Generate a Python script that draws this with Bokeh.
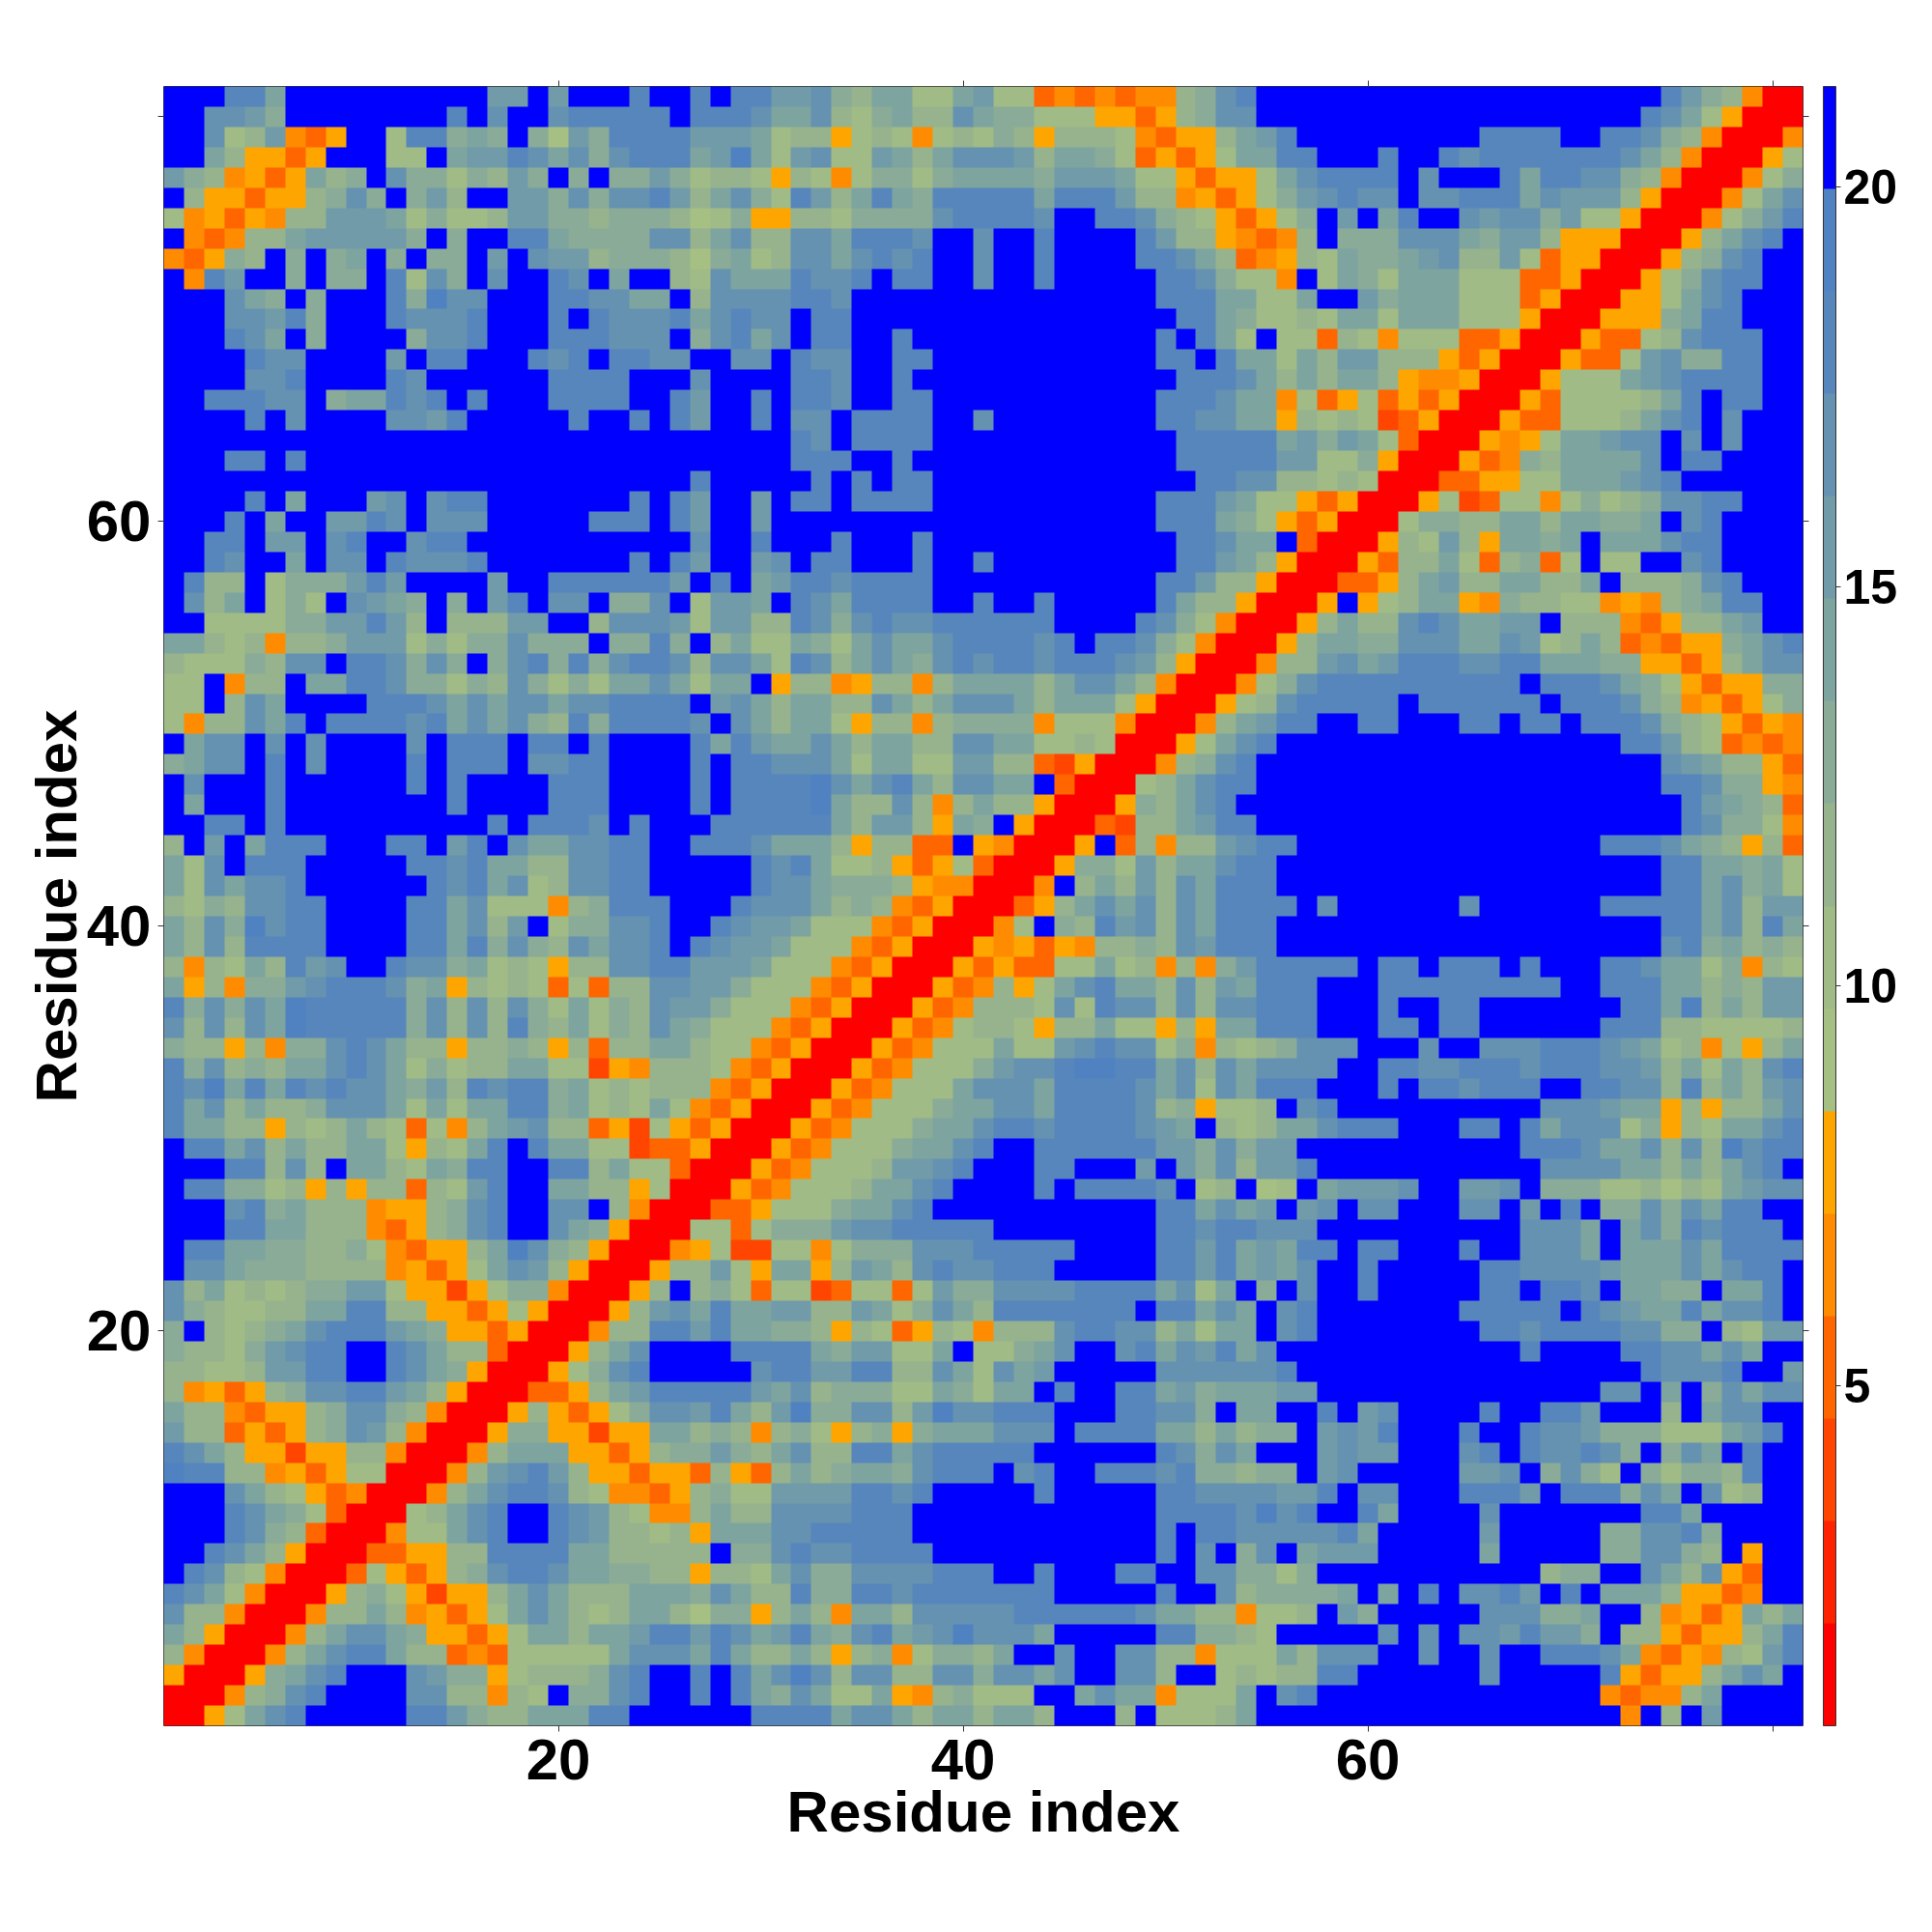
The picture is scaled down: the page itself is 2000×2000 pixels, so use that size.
from bokeh.embed import file_html
from bokeh.resources import INLINE
from bokeh.plotting import figure
from bokeh.models import LinearColorMapper, ColorBar, FixedTicker, LinearAxis, Range1d, CustomLabelingPolicy
import numpy as np

# Band index of every cell (hex digit; 0 = first colour bar band, f = last), read top row first.
TOP_LEFT = [
"fffddaffffffffffbbfbfffdffd","ffccb9ffffffffdfcffcdddddfd","ffc78b435ff7dd9a9f96b9ddddb",
"ffa85535fff77fabbdcac9cddda","b984535a89fc99798b9f9f99b97","f85535589c9f9b8ffbb9c9ccdb8",
"74535488bbba79778bb99899986","f43488abbbbb9f9ffdda9999cc8","43598f9f9af9f99fbfcbb899986",
"f4dbff9f99fd7c9fcffdcfaff87","fffca9f9fffd9eccfffddccaaf8","fffccbd9fffdcccdfffdfdcccda",
"fffdcaf9ffff9ccdfffdddcccf9","ffffdccffffbfddfffdcdfddccf","ffffccdffffdcffffffddddfffc",
"ffdddccf9aadcdfdfffddddffdb","ffffdfcffffccbdfffffdffdfdb","fffffffffffffffffffffffffff",
"fffddfdffffffffffffffffffff","ffffffffffffffffffffffffffd","ffffdfafffbcfcddfffffffdfdb",
"fffdfaffbbdcfcccfffffdddfdb","ffddfbbfcdffcddfffffffffffc","ffdcffafccfdcccdfffffffdfdb",
"fd88f7999bdbffffbffddddddbf","fc8af797fcba9f9fbdfccf99cf7","ff777799bbdb8f888bbff8cccb7",
]
TOP_MID = [
"fddbbc98aa77ab77343434489cd","ddcaac879a88ca99777553589cc","bba78857874787985888743558a",
"bea7bc77ba8acccb8aa9735357a","887587479979aaaa9bbba775355","ac97db8ada9dddddadddb884535",
"79558879999cddddcffddc98753","ac88ccadddcffcffdffffdb8854","9a78ccacdcdffcffdffffddca83",
"caaadccdfddffcffdfffffddc97","ccccddcfffffffffffffffdddaa","cdccfddffffffffffffffffdda9",
"cdacfddffdffffffffffffdfda7","fccfdccffddfffffffffffddfda","ffffddcffdfffffffffffffdddc",
"ffdfddcffddfffffffffffdddca","ffdfccfddddffcffffffffddcca","ffffdcfddddffffffffffffdddd",
"ffffdddffdfffffffffffffdddd","fffffdfdfddfffffffffffffddc","ffbfddfddddfffffffffffdddba",
"ffbfffffffffffffffffffddda9","ffdfffdfffdffffffffffffddca","ffbcfddfffdffdfffffffffddba",
"dfabddcddddfffffffffffddb88","bbafdcaddddffdffdfffffda885","bb88dc9cdccddddddffffdc9740",
]
TOP_RIGHT = [
"ffffffffffffffffffffdb98400","fffffffffffffffffffdca75000","bdfffffffffddddffddc9840004",
"addfffdffdcdddddddca8400057","7acddddfcfffdaddcc984000479","79bcdccfccdddacbbb8500047ac",
"579fbfadffcbcc9b775000479bd","348f999ccca9bb855500058acdf","4587a99abc88b7355000589cdff",
"74f7a97aaa777335000579cddff","77affb9aaa77735000557acdfff","7787aa7aaa77750005559addfff",
"f77387477733500053378cdddff","a7a8bb8885350005337bc99ddff","a8a8aa854450005777abcddddff",
"a4735735350005377778adfddff","a587872350005337778acdfcfff","dab9ba730005457aabccfcfcfff",
"dbb779500053498aaaacfddffff","c88787000335577aaabcdffffff","77535000572377479789ccddfff",
"753500079988aa8aa99afcdffff","af3000587b85aa9afaaacddffff","850005388a738937f77ffcdffff",
"50003358ab88aa88af8889cdfff","0005f578aa549887745489addff","0058a88cdcaabbf88843588abff",
]
MID_LEFT = [
"aa8784889bbb79799c999f99d9f","877798ccfddc9c9f9cd9d9cddc8","77f488faaddc99798c9797aaca7",
"77f8caffffdddcacaccaccddddf","7488cadfddddcdacac98d9ddddc","faccfcfcffffcfdddfddfdffffd",
"9accfdfcffffdfdddfccddffffd","fcfffdffffffdfdffffdddffffd","fafffdffffffffdffffdddffffd",
"ffddfdffffffffffdfdddcfdfff","8fbfadddfffddfbdfcaaccddffd","a7cfdddfffffddcdaa88ccddfff",
"a7caccdffffffdcdac78ccddfff","8798ccddffffddac777489dddff","a8c9ecddffffddac8bf799ccdff",
"a8c8ddddffffddad9c98caccdfd","8487a8dbcffdcc9a787588ccddb","a58499bcdddc9a5878737388ccb",
"d9c9caeddddd9c8c8c97a798cbb","c8c8caeddddd9c8c8d98a798ca9","98858499cdca885889858388aa8",
"d9c898aacdca79788aa77254888","dceadadcdcca9b8dcdd9a787888","dac8a889ccca7a7aadd9a787a74",
"daa885878a873748abc88352753","fddac8a88aa7587adfdaa772335","fffdd8c8faa87a9ddffdd8a7730",
]
MID_MID = [
"8a77a97acaacddddcdfddc97400","cca7dc8aca9cdcddcdddcb85000","aaf588458848aaaa8acca840004",
"bca8aa88ca8accca8aaa7500057","fca8aa75884899994777400048a","adbaaca8aa88ccaa778700057ac",
"fddccca7aa77bb88325000489cd","fddddecacda8ccaaf300078acdd","fddddea88c848a885000598acdf",
"dddddda8bb85a9f50003288abdd","ddcaaa858833f540005f38488bc","ffdcda778535730005997b8aacd",
"ffdcca99985440004f8a8b8cadd","fdccca898435000358acac8cadd","dcbba77743500047f98dbc8cadd",
"cbba7774350005453548898cbdd","bba7774350005353377a784849b","b9777435000534857acdaa8c8ba",
"97774350005348887c7dcc8c8cc","7774350005347887588a77585aa","77435000534777a77bcdcc79487",
"74350005347779bccdeeddac8ca","435000534777acccaddddcac7ca","350005347779aaccaddddc89577",
"50005347779aacddcddddcbaf87","0005347779aacdffddddddbb9c9","005347778bbcdfffddfffbfb9c8",
]
MID_RIGHT = [
"058aa99cccaacb78a8343559acd","488bcabdddccddaaa9955358acc","79cddddddddddfdddca97535599",
"8cdddddfddddddfdddc98453579","bddffddfffddfddfdddc9875354","dfffffffffffffffffddb873434",
"ffffffffffffffffffffcba8853","ffffffffffffffffffffddc9954","fffffffffffffffffffffdba983",
"fffffffffffffffffffffdc9974","ddfffffffffffffffdddca98583","dfffffffffffffffffffddaa9a7",
"dfffffffffffffffffffddac9a7","ddfcffffffcffffffdddddac8bb","dfffffffffffffffffffddac8da",
"dfffffffffffffffffffcd9a898","dddddfddfdddfdfffddcaa79487","dddfffdddddddddffdddaa898bb",
"dddfffdffddfffffffddae8a8bb","dddfffddfddffffffddd8877778","89cccfffcffcccdddcba784758a",
"ccccffddccdddcdddccb8a7a8cd","dddfffdfddcdddffddcc8d8a8bc","8fcdffffffffffcccbaa58588ac",
"8aacdddfffddfdaccc79587aacd","bbfffffffffffdddcaac8c8ecdd","bbdfffffffffffccccaa8a8acdf",
]
BOT_LEFT = [
"fdd997858588387bdffaa885700","fffcd9a88845589cdffccf84000","fffddaa88843589cdffca950007",
"fddaa99889743558aec98500045","fcca999888845357acb85000588","c8a787899bb75525799400058f8",
"c987788aadd8855357500058bca","9f8789acdddba95535000488ddb","98879bcddffdca88300058acfff",
"88778bbddffdca95000579cdfff","8453589ccddba850003358abddd","a88435589cc9840005853579ccb",
"b88353589cb8400059955255aa8","dca85525588400048aaa5535899","edd8845357700048bcdb8553553",
"fffca8753400048acddc8744358","fffdca97300078acdffdcb87448","fffdc983000477acdffdcb88785",
"ffdca85000335588ddddaa88888","fdc8740003753589cddcaa99885","dca74000589752558aca888aaa9",
"c884000488a845357aca878aa86","a8500048acca955357aa8aabddb","8400048acdda8834377777accca",
"500059acdfffcb99578889cdffd","000489cdffffcc88487f99cdffd","0057acdfffffddb988aaaddffff",
]
BOT_MID = [
"05347778aacdffffdfddddcf78f","3357779aacdfffffffffffddaca","737999bccdddddffffffffddcdd",
"7227747999cccdddddffffddbda","b75aa58ba8cdccdddfffffddbda","97377237737b99ccccddddac7af",
"daabb88ba79ca8dddddddfddaca","daa99858735874888cddcc8a7aa","fdddda9bb77af779acffcdacbda",
"ffcddbbdd88ca7cabfffffccccc","ddbac899977a97aafdffddab9aa","da8be99cc8beccdddfffddcc9fa",
"98489758959aaacccfddddaa8a8","b98ac88ddacdddddffffffdc9ca","8538a89aa9cdddfcdffdddcd998",
"977bbbbddcdfffffdfffffddccc","a88ccccdddffffffffffffddddc","aaaccdddddffffffffffffdfddc",
"f99cdccddddfffffffffffdfcf9","887ac99ccccdddffdfffddffcc9","ca88d99ddcdddddddfffffdffc8",
"9958a84aa8cccccddddddcaa884","dcabda9cdabcecccafffffdd998","da88a858947998affcffcc88477",
"fdacec8cc88cc9ccacffcc8ff78","fda9ca77a5489777ffacaa4777a","ffddddacca8aa8aa8fff8f7778a",
]
BOT_RIGHT = [
"67fabbbcffbbcf999778687abcc","bfbcfccfffccfbfdf99c9caddff","cccffffffffffcccafac9dcdddf",
"baddfddfffdffcccafaaacadddd","bacffdfffffddccccbaaacacddf","9fcffdfffffddfddcfaa99faadf",
"fcdfffffffdddddfdcbaadaccdf","fcdffffffffddcddddcc99f87bb","cffffffffffffdffffddccacaff",
"cdfffffffffffffffffdcccdffb","abbffffffffffffffccfaf9cacc","affdfbcffffdffddbfff8faccff",
"99fbcbdfffdffdccb999777abdf","fffbcbbfffcdfdccdc9f9cafdff","99fbcfffffbbcf9c97f97998dff",
"cbbdfccfffdddbfddd9cafc78ff","ecdffdaffffcfffffffddafffff","ccccdafffffbfffff99ccd9ffff",
"cfabbbfffffafffff99cc98f5ff","979fffffffffff899ffca8c53ff","9999afafdfccdbfdfaaa85534ff",
"778fb9fffffccc99aff84535a8a","7fffffcfcfccbdbb9f8853558ad","7a8cccffcffcffdddca435487bd",
"788ddffffffcfffffd53558acaf","fcdffffffffffffff43448affff","ffffffffffffffffff4f8fbffff",
]
PALETTE = ["#ff0000","#ff2200","#ff4500","#ff6600","#ff8c00","#ffa500",
           "#a6c084","#a0bb86","#96b38e","#8aab97","#7ea4a0","#719ba9","#6592b1","#5786bc","#5082c2","#0000ff"]
TICKS = [5, 10, 15, 20]
AXIS_TICKS = [20, 40, 60, 80]
LOW, HIGH = 0.74, 21.26

rows = []
for a, b, c in [(TOP_LEFT,TOP_MID,TOP_RIGHT),(MID_LEFT,MID_MID,MID_RIGHT),(BOT_LEFT,BOT_MID,BOT_RIGHT)]:
    rows += [x+y+z for x, y, z in zip(a, b, c)]
step = (HIGH-LOW)/len(PALETTE)
grid = np.array([[LOW+(int(ch,16)+0.5)*step for ch in r] for r in rows])[::-1]

mapper = LinearColorMapper(palette=PALETTE, low=LOW, high=HIGH)
FONT = "Liberation Sans"
p = figure(frame_width=1697, frame_height=1697, output_backend="svg", toolbar_location=None,
           x_range=Range1d(0.5,81.5), y_range=Range1d(0.5,81.5),
           min_border_left=169, min_border_top=89, min_border_bottom=120, min_border_right=20,
           outline_line_color="#333333", outline_line_width=1)
p.image(image=[grid], x=0.5, y=0.5, dw=81, dh=81, color_mapper=mapper)
p.grid.visible = False

def style(ax, labels=True):
    ax.ticker = FixedTicker(ticks=AXIS_TICKS)
    ax.major_tick_out = 6; ax.major_tick_in = 0; ax.minor_tick_out = 0; ax.minor_tick_in = 0
    ax.major_tick_line_color = "#333333"; ax.major_tick_line_width = 1
    ax.axis_line_color = None
    if labels:
        ax.major_label_policy = CustomLabelingPolicy(code="for (const i of indices) { if (i < 3) yield i; }")
        ax.major_label_text_font = FONT; ax.major_label_text_font_style = "bold"
        ax.major_label_text_font_size = "60px"; ax.major_label_text_color = "black"
        ax.axis_label = "Residue index"
        ax.axis_label_text_font = FONT; ax.axis_label_text_font_style = "bold"
        ax.axis_label_text_font_size = "60px"; ax.axis_label_text_color = "black"
    else:
        ax.major_label_policy = CustomLabelingPolicy(code="")
        ax.major_label_standoff = 0

style(p.xaxis[0]); style(p.yaxis[0])
p.xaxis[0].major_label_standoff = 8; p.xaxis[0].axis_label_standoff = -3
p.yaxis[0].major_label_standoff = 7; p.yaxis[0].axis_label_standoff = -5
top = LinearAxis(); style(top, False); p.add_layout(top, "above")
right = LinearAxis(); style(right, False); p.add_layout(right, "right")

cb = ColorBar(color_mapper=mapper, width=13, height=1697, padding=0, margin=35,
              ticker=FixedTicker(ticks=TICKS), major_tick_in=0, major_tick_out=5,
              major_tick_line_color="#333333", bar_line_color="#333333", bar_line_width=1,
              minor_tick_in=0, minor_tick_out=0, label_standoff=3,
              major_label_text_font=FONT, major_label_text_font_style="bold",
              major_label_text_font_size="50px", major_label_text_color="black")
p.add_layout(cb, "right")

open("out.html", "w").write(file_html(p, INLINE))
